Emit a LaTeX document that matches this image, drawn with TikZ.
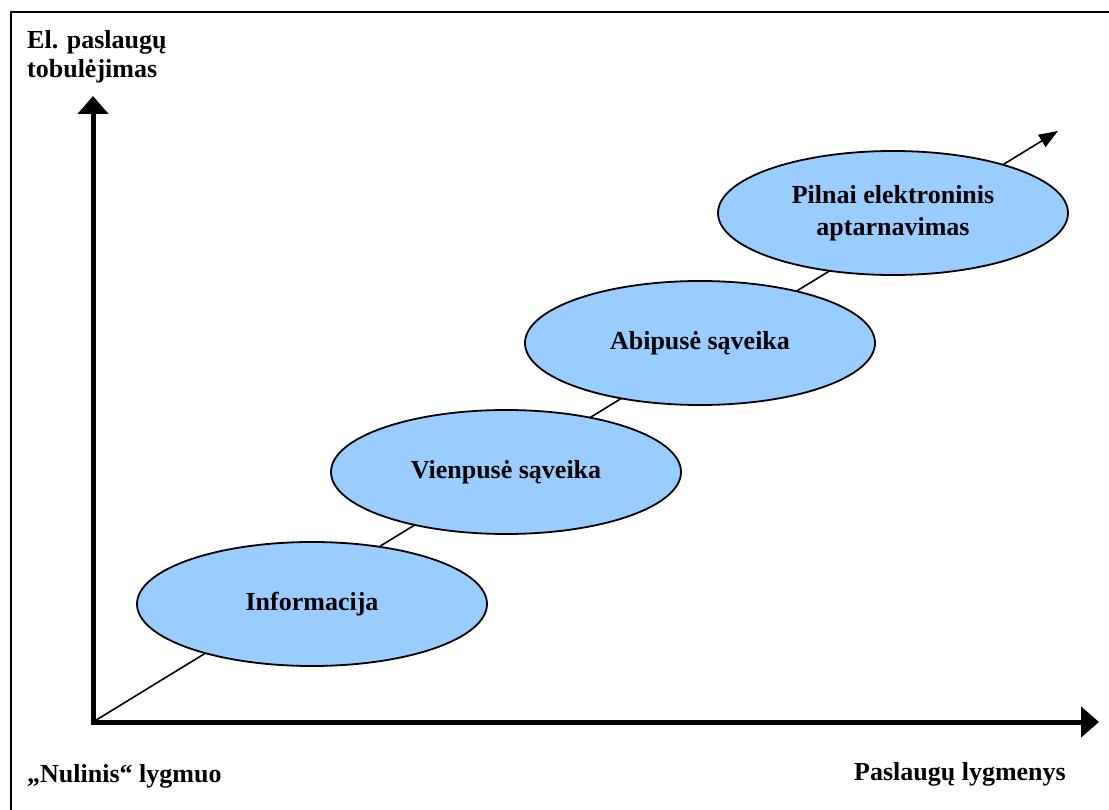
\documentclass[tikz,border=0pt]{standalone}
\usepackage{fontspec}
\setmainfont{Liberation Serif}
\usetikzlibrary{arrows.meta,shapes.geometric}
\definecolor{ellfill}{HTML}{99CCFF}
\begin{document}
\begin{tikzpicture}[x=1pt,y=-1pt,
  stage/.style={ellipse,draw=black,line width=1.8pt,fill=ellfill,
    minimum width=350pt,minimum height=124pt,inner sep=0pt,align=center,
    font=\fontsize{26}{32}\selectfont\bfseries},
  lbl/.style={inner sep=0pt,font=\fontsize{26}{29}\selectfont\bfseries},
  axis/.style={line width=5pt,-{Triangle[width=30pt,length=18pt]}},
  diag/.style={line width=1.6pt,-{Triangle[width=14pt,length=19pt]}}]
\useasboundingbox (0,0) rectangle (1109,810);
% frame
\draw[line width=2pt] (11,830) -- (11,12.5) -- (1130,12.5);
% coordinates
\coordinate (o) at (93,722);
\coordinate (ytip) at (93,96);
\coordinate (xtip) at (1099,722);
\coordinate (dtip) at (1058,131);
% diagonal
\draw[diag] (o) -- (dtip);
% axes
\draw[axis] ([yshift=2.5pt]o) -- (ytip);
\draw[axis] ([xshift=-2.5pt]o) -- (xtip);
% stages
\node[stage] (s1) at (312,604) {Informacija};
\node[stage] (s2) at (506,472) {Vienpusė sąveika};
\node[stage] (s3) at (700,343) {Abipusė sąveika};
\node[stage] (s4) at (893,213) {Pilnai elektroninis\\aptarnavimas};
% labels
\node[lbl,anchor=base west,align=left] (yl) at (27,78) {El. paslaugų\\tobulėjimas};
\node[lbl,anchor=base west] (ol) at (27,782) {„Nulinis“ lygmuo};
\node[lbl,anchor=base east] (xl) at (1066,780) {Paslaugų lygmenys};
\end{tikzpicture}
\end{document}
